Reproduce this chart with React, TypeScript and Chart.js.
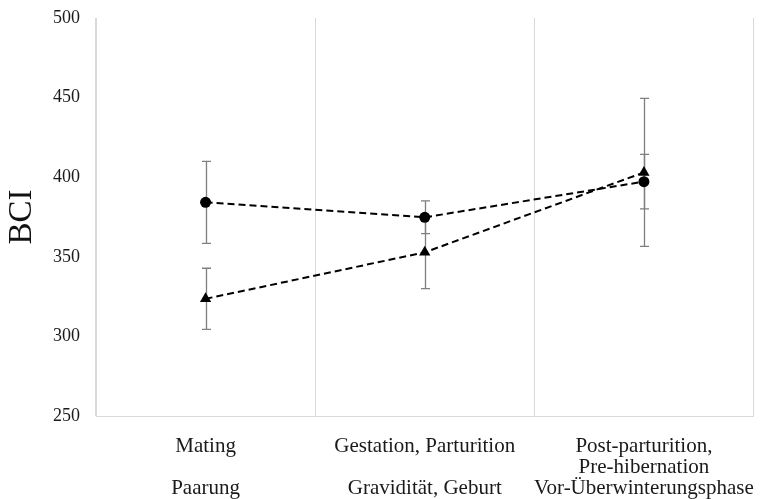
import React, { useEffect, useRef } from "react";
import { Chart, registerables } from "chart.js";

Chart.register(...registerables);

const categories: string[][] = [
  ["Mating", "", "Paarung"],
  ["Gestation, Parturition", "", "Gravidität, Geburt"],
  ["Post-parturition,", "Pre-hibernation", "Vor-Überwinterungsphase"],
];
const circleValues = [384.2, 374.8, 397.2];
const circleErrors = [25.8, 10.3, 17.1];
const triangleValues = [323.6, 352.8, 403.0];
const triangleErrors = [19.2, 22.8, 46.5];
const yMin = 250;
const yMax = 500;
const yStep = 50;
const yTitle = "BCI";

const errorBarPlugin = {
  id: "errorBars",
  beforeDatasetsDraw(chart: any) {
    const ctx = chart.ctx;
    const yScale = chart.scales.y;
    ctx.save();
    ctx.strokeStyle = "#7f7f7f";
    ctx.lineWidth = 1.3;
    chart.data.datasets.forEach((ds: any, di: number) => {
      const meta = chart.getDatasetMeta(di);
      const errs: number[] = ds.errors || [];
      meta.data.forEach((pt: any, i: number) => {
        const v = ds.data[i];
        const e = errs[i];
        if (e == null) return;
        const x = Math.round(pt.x) + 0.5;
        const yTop = yScale.getPixelForValue(v + e);
        const yBot = yScale.getPixelForValue(v - e);
        ctx.beginPath();
        ctx.moveTo(x, yTop);
        ctx.lineTo(x, yBot);
        ctx.moveTo(x - 4.5, yTop);
        ctx.lineTo(x + 4.5, yTop);
        ctx.moveTo(x - 4.5, yBot);
        ctx.lineTo(x + 4.5, yBot);
        ctx.stroke();
      });
    });
    ctx.restore();
  },
};

const serif = "'Liberation Serif', 'Times New Roman', serif";

export default function App() {
  const canvasRef = useRef<HTMLCanvasElement | null>(null);

  useEffect(() => {
    document.body.style.margin = "0";
    const canvas = canvasRef.current;
    if (!canvas) return;
    const chart = new Chart(canvas, {
      type: "line",
      data: {
        labels: categories as any,
        datasets: [
          {
            label: "circle",
            data: circleValues,
            errors: circleErrors,
            borderColor: "#000000",
            backgroundColor: "#000000",
            borderWidth: 2,
            borderDash: [7, 4],
            pointStyle: "circle",
            pointRadius: 5.5,
            pointBorderWidth: 0,
            fill: false,
            tension: 0,
          } as any,
          {
            label: "triangle",
            data: triangleValues,
            errors: triangleErrors,
            borderColor: "#000000",
            backgroundColor: "#000000",
            borderWidth: 2,
            borderDash: [7, 4],
            pointStyle: "triangle",
            pointRadius: 6.5,
            pointBorderWidth: 0,
            fill: false,
            tension: 0,
          } as any,
        ],
      },
      options: {
        animation: false,
        responsive: false,
        maintainAspectRatio: false,
        layout: { padding: { top: 18, right: -3, left: 0, bottom: 0 } },
        plugins: {
          legend: { display: false },
          tooltip: { enabled: false },
        },
        scales: {
          x: {
            type: "category",
            offset: true,
            grid: {
              display: true,
              offset: true,
              color: "#d9d9d9",
              lineWidth: 1,
              drawTicks: false,
            },
            border: { display: true, color: "#d9d9d9", width: 1 },
            ticks: {
              color: "#1a1a1a",
              padding: 20,
              maxRotation: 0,
              autoSkip: false,
              font: { family: serif, size: 21, lineHeight: 1.0 },
            },
            afterFit(scale: any) {
              scale.height = 83;
              scale.paddingLeft = 0;
              scale.paddingRight = 0;
            },
          },
          y: {
            min: yMin,
            max: yMax,
            grid: { display: false, drawTicks: false },
            border: { display: true, color: "#d9d9d9", width: 1 },
            ticks: {
              stepSize: yStep,
              color: "#1a1a1a",
              padding: 16,
              font: { family: serif, size: 18 },
            },
            title: {
              display: true,
              text: yTitle,
              color: "#111111",
              padding: { top: 3, bottom: 0 },
              font: { family: serif, size: 33, lineHeight: 1.2 },
            },
            afterFit(scale: any) {
              scale.width = 96;
              scale.paddingTop = 0;
              scale.paddingBottom = 0;
            },
          },
        },
      },
      plugins: [errorBarPlugin],
    } as any);
    return () => chart.destroy();
  }, []);

  return (
    <div style={{ position: "fixed", left: 0, top: 0, width: 760, height: 499, background: "#ffffff" }}>
      <canvas ref={canvasRef} width={760} height={499} style={{ width: 760, height: 499 }} />
    </div>
  );
}
